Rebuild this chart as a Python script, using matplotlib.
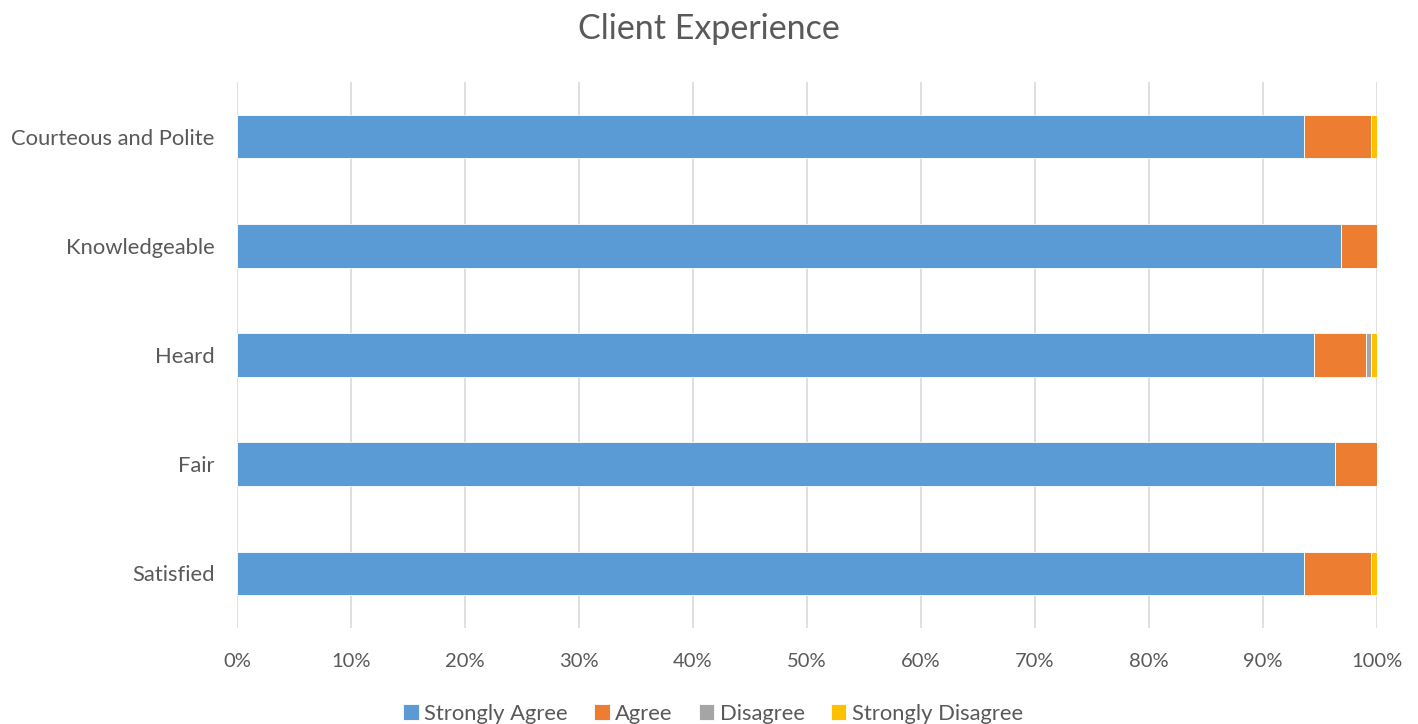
import numpy as np
import matplotlib.pyplot as plt
from matplotlib.ticker import PercentFormatter

categories = ["Satisfied", "Fair", "Heard", "Knowledgeable", "Courteous and Polite"]
strongly_agree = [93.6, 96.3, 94.5, 96.8, 93.6]
agree = [5.9, 3.7, 4.5, 3.2, 5.9]
disagree = [0.0, 0.0, 0.5, 0.0, 0.0]
strongly_disagree = [0.5, 0.0, 0.5, 0.0, 0.5]

series = [
    ("Strongly Agree", strongly_agree, "#5B9BD5"),
    ("Agree", agree, "#ED7D31"),
    ("Disagree", disagree, "#A5A5A5"),
    ("Strongly Disagree", strongly_disagree, "#FFC000"),
]

plt.rcParams['font.family'] = ['Lato', 'DejaVu Sans']
text_color = '#595959'

fig = plt.figure(figsize=(14.18, 7.24), dpi=100)
ax = fig.add_axes([0.1671, 0.1326, 0.8040, 0.7541])

y = np.arange(len(categories))
left = np.zeros(len(categories))
for name, vals, col in series:
    vals = np.array(vals)
    ax.barh(y, vals, left=left, height=0.4, color=col, label=name,
            edgecolor='white', linewidth=0.6, zorder=3)
    left += vals

ax.set_xlim(0, 100)
ax.set_ylim(-0.5, len(categories) - 0.5)
ax.set_xticks(np.arange(0, 101, 10))
ax.xaxis.set_major_formatter(PercentFormatter(decimals=0))
ax.set_yticks(y)
ax.set_yticklabels(categories)
ax.grid(axis='x', color='#D9D9D9', linewidth=1.2, zorder=0)
ax.tick_params(axis='both', length=0, labelcolor=text_color)
ax.tick_params(axis='x', pad=18, labelsize=14.5)
ax.tick_params(axis='y', pad=16, labelsize=15.8)
for s in ax.spines.values():
    s.set_visible(False)

fig.suptitle("Client Experience", y=0.982, fontsize=24.5, color=text_color)

leg = fig.legend(loc='lower center', bbox_to_anchor=(0.503, -0.027), ncol=4,
                 frameon=False, fontsize=15.8, handlelength=0.7, handleheight=0.7,
                 handletextpad=0.25, columnspacing=1.2)
for t in leg.get_texts():
    t.set_color(text_color)

fig.savefig("out.png", dpi=100)
